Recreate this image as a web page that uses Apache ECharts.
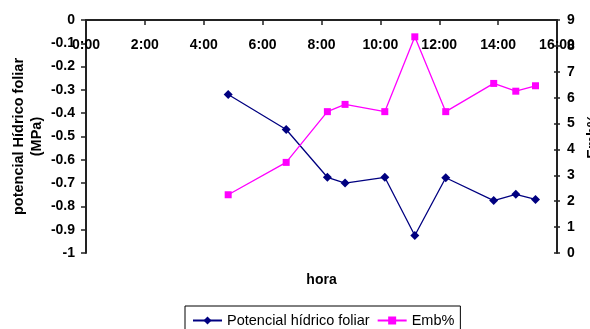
<!DOCTYPE html>
<html><head><meta charset="utf-8">
<script src="https://cdn.jsdelivr.net/npm/echarts@6/dist/echarts.min.js"></script>
<style>html,body{margin:0;padding:0;background:#fff}#c{width:590px;height:329px}</style>
</head><body><div id="c"></div>
<script>
// hour of day (decimal hours)
var hours = [4.83, 6.8, 8.2, 8.8, 10.15, 11.17, 12.22, 13.85, 14.6, 15.27];
var potencial = [-0.32, -0.47, -0.675, -0.70, -0.675, -0.925, -0.677, -0.775, -0.748, -0.77];
var emb = [2.25, 3.5, 5.46, 5.74, 5.46, 8.35, 5.46, 6.55, 6.25, 6.46];
var seriesNames = ['Potencial hídrico foliar', 'Emb%'];
var xTicks = ['0:00','2:00','4:00','6:00','8:00','10:00','12:00','14:00','16:00'];

var F = 'Arial, "Liberation Sans", sans-serif';
function pairs(xs, ys){ return xs.map(function(x,i){ return [x, ys[i]]; }); }

var chart = echarts.init(document.getElementById('c'), null, {renderer:'canvas'});
chart.setOption({
  backgroundColor:'#fff',
  animation:false,
  grid:{left:86, right:33, top:20, bottom:76, outerBoundsMode:'none', containLabel:false},
  legend:{
    left:185, top:306,
    data:seriesNames,
    itemWidth:29, itemHeight:10, itemGap:7,
    borderColor:'#000', borderWidth:1, borderRadius:0,
    padding:[7,6,7,7],
    textStyle:{fontFamily:F, fontSize:14.5, color:'#000'}
  },
  xAxis:{
    type:'value', position:'top', min:0, max:16, interval:2,
    name:'hora', nameLocation:'middle', nameGap:-267, nameMoveOverlap:false,
    nameTextStyle:{fontFamily:F, fontSize:14, fontWeight:'bold', color:'#000'},
    axisLine:{onZero:false, lineStyle:{color:'#222', width:2}},
    axisTick:{inside:true, length:5, lineStyle:{color:'#222', width:1.5}},
    axisLabel:{inside:true, margin:18, fontFamily:F, fontSize:14, fontWeight:'bold', color:'#000',
      formatter:function(v){ return xTicks[Math.round(v/2)]; }},
    splitLine:{show:false}
  },
  yAxis:[{
    type:'value', min:-1, max:0, interval:0.1, position:'left',
    name:'potencial Hídrico foliar\n(MPa)', nameLocation:'middle', nameRotate:90, nameGap:40, nameMoveOverlap:false,
    nameTextStyle:{fontFamily:F, fontSize:14.5, fontWeight:'bold', color:'#000', lineHeight:18},
    axisLine:{show:true, lineStyle:{color:'#222', width:2}},
    axisTick:{show:true, length:5, lineStyle:{color:'#222', width:1.5}},
    axisLabel:{margin:11, fontFamily:F, fontSize:14, fontWeight:'bold', color:'#000',
      formatter:function(v){ var r=Math.round(v*10)/10; return r===0?'0':(r===-1?'-1':r.toFixed(1)); }},
    splitLine:{show:false}
  },{
    type:'value', min:0, max:9, interval:1, position:'right',
    name:'Emb%', nameLocation:'middle', nameRotate:90, nameGap:28, nameMoveOverlap:false,
    nameTextStyle:{fontFamily:F, fontSize:14.5, fontWeight:'bold', color:'#000'},
    axisLine:{show:true, lineStyle:{color:'#222', width:2}},
    axisTick:{show:true, inside:true, length:3, lineStyle:{color:'#222', width:1.5}},
    axisLabel:{margin:10, fontFamily:F, fontSize:14, fontWeight:'bold', color:'#000'},
    splitLine:{show:false}
  },{
    type:'value', min:0, max:9, interval:1, position:'right',
    axisLine:{show:false}, axisLabel:{show:false},
    axisTick:{show:true, length:3, lineStyle:{color:'#222', width:1.5}},
    splitLine:{show:false}
  }],
  series:[{
    name:seriesNames[0], type:'line', yAxisIndex:0,
    data:pairs(hours, potencial),
    symbol:'diamond', symbolSize:9,
    itemStyle:{color:'#000080'}, lineStyle:{color:'#000080', width:1.3}
  },{
    name:seriesNames[1], type:'line', yAxisIndex:1,
    data:pairs(hours, emb),
    symbol:'rect', symbolSize:7,
    itemStyle:{color:'#FF00FF'}, lineStyle:{color:'#FF00FF', width:1.3}
  }]
});
</script></body></html>
